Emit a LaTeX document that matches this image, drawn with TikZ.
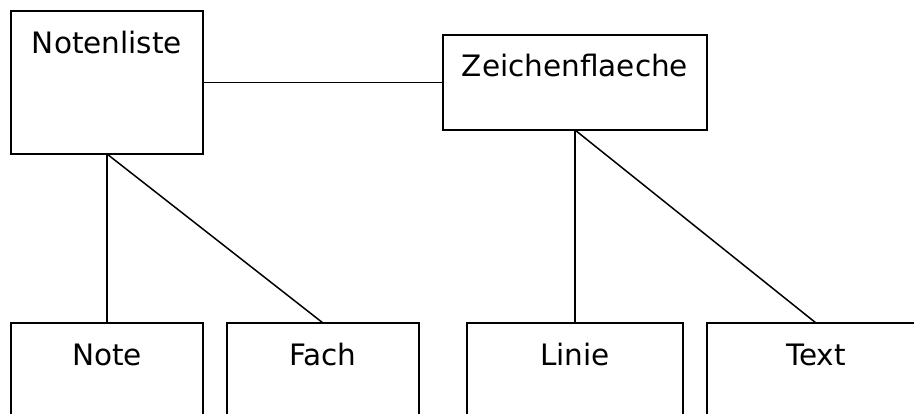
\documentclass[tikz,border=0pt]{standalone}
\usepackage{fontspec}
\setmainfont{DejaVu Sans}
\begin{document}
\begin{tikzpicture}[x=1pt,y=-1pt,
  box/.style={draw=black,line width=2pt,rectangle,inner sep=0pt,outer sep=0pt,anchor=north west},
  lbl/.style={anchor=base,inner sep=0pt,font=\fontsize{29.5}{34}\selectfont},
  conn/.style={draw=black,line width=1.5pt}]
\clip (0,0) rectangle (914,413);
\node[box,minimum width=192pt,minimum height=143pt] (notenliste) at (11,11) {};
\node[box,minimum width=264pt,minimum height=95pt] (zeichen) at (443,35) {};
\node[box,minimum width=192pt,minimum height=130pt] (note) at (11,323) {};
\node[box,minimum width=192pt,minimum height=130pt] (fach) at (227,323) {};
\node[box,minimum width=216pt,minimum height=130pt] (linie) at (467,323) {};
\node[box,minimum width=218pt,minimum height=130pt] (text) at (707,323) {};
\node[lbl] (tnotenliste) at ([yshift=-42pt]notenliste.north) {Notenliste};
\node[lbl] (tzeichen) at ([yshift=-41pt]zeichen.north) {Zeichenflaeche};
\node[lbl] (tnote) at ([yshift=-42pt]note.north) {Note};
\node[lbl] (tfach) at ([yshift=-42pt]fach.north) {Fach};
\node[lbl] (tlinie) at ([yshift=-42pt]linie.north) {Linie};
\node[lbl] (ttext) at ([yshift=-42pt]text.north) {Text};
\draw[conn] (notenliste.east) -- (zeichen.west);
\draw[conn] (notenliste.south) -- (note.north);
\draw[conn] (notenliste.south) -- (fach.north);
\draw[conn] (zeichen.south) -- (linie.north);
\draw[conn] (zeichen.south) -- (text.north);
\end{tikzpicture}
\end{document}
